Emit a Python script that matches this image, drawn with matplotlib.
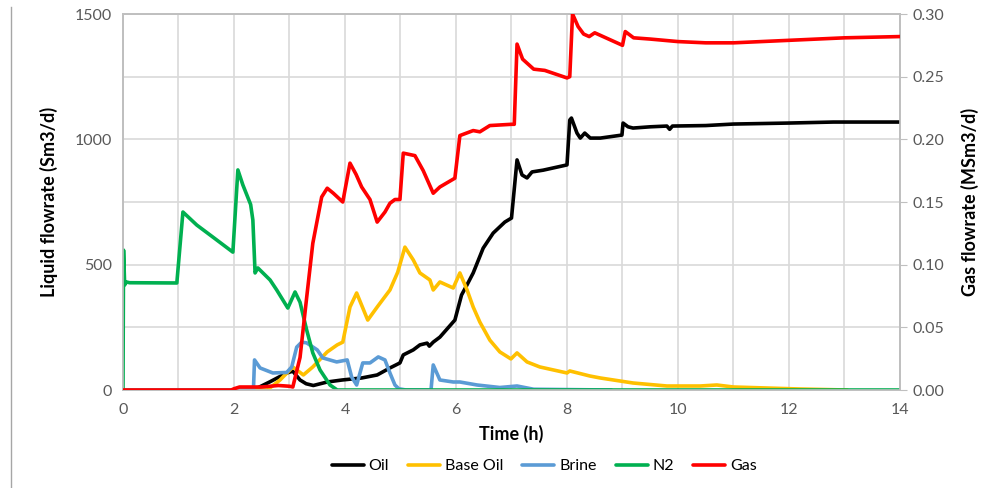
import matplotlib.pyplot as plt
from matplotlib.lines import Line2D

plt.rcParams['font.family'] = ['Lato', 'DejaVu Sans']

# time (h) / liquid rates (Sm3/d)
oil_t = [0, 2.35, 2.65, 2.95, 3.06, 3.19, 3.3, 3.43, 3.68, 3.95, 4.3, 4.58, 4.81, 4.99, 5.05,
         5.23, 5.35, 5.48, 5.52, 5.59, 5.71, 5.98, 6.1, 6.2, 6.31, 6.49, 6.67, 6.88, 7.0,
         7.1, 7.19, 7.28, 7.37, 7.57, 8.0, 8.05, 8.08, 8.18, 8.24, 8.32, 8.42, 8.6, 8.99,
         9.01, 9.1, 9.19, 9.5, 9.8, 9.85, 9.9, 10.5, 11, 12, 12.8, 14]
oil_q = [0, 0, 33, 68, 75, 40, 25, 18, 32, 40, 48, 60, 88, 108, 140,
         160, 180, 187, 175, 191, 211, 279, 379, 420, 467, 566, 626, 670, 686,
         918, 858, 846, 870, 877, 898, 1077, 1085, 1025, 1005, 1025, 1005, 1005, 1017,
         1065, 1050, 1045, 1050, 1053, 1040, 1053, 1055, 1061, 1065, 1069, 1069]

base_t = [0, 2.6, 2.83, 3.06, 3.25, 3.42, 3.68, 3.86, 3.96, 4.09, 4.21, 4.41, 4.58, 4.81,
          4.95, 5.08, 5.23, 5.35, 5.53, 5.59, 5.71, 5.95, 6.07, 6.2, 6.31, 6.43, 6.61,
          6.79, 6.99, 7.1, 7.28, 7.51, 8.0, 8.05, 8.41, 8.6, 9.19, 9.8, 10.4, 10.7, 11.0,
          11.6, 12.2, 13.05]
base_q = [0, 0, 40, 92, 60, 92, 152, 180, 191, 331, 387, 279, 331, 399,
          470, 570, 519, 467, 439, 399, 431, 407, 467, 399, 331, 271, 199,
          152, 124, 148, 112, 92, 68, 76, 56, 48, 28, 16, 16, 20, 12,
          8, 4, 0]

brine_t = [0, 2.35, 2.37, 2.47, 2.7, 2.95, 3.04, 3.13, 3.22, 3.31, 3.5, 3.6, 3.85, 4.04,
           4.12, 4.21, 4.32, 4.45, 4.6, 4.72, 4.81, 4.9, 4.97, 5.1, 5.55, 5.59, 5.71, 5.95,
           6.07, 6.38, 6.79, 7.1, 7.4, 8.8]
brine_q = [0, 0, 120, 88, 68, 70, 92, 171, 191, 188, 160, 128, 112, 120,
           52, 20, 108, 108, 132, 120, 68, 20, 5, 0, 0, 100, 40, 32,
           32, 20, 10, 16, 3, 0]

n2_t = [0, 0.01, 0.03, 0.06, 0.12, 0.97, 1.08, 1.33, 1.62, 1.98, 2.07, 2.16, 2.3, 2.34,
        2.38, 2.43, 2.65, 2.77, 2.97, 3.1, 3.19, 3.31, 3.42, 3.55, 3.73, 3.86, 14]
n2_q = [0, 558, 419, 431, 428, 427, 710, 658, 610, 550, 878, 818, 740, 678,
        467, 487, 439, 399, 327, 391, 350, 239, 148, 80, 20, 0, 0]

# gas rate (MSm3/d), right axis
gas_t = [0, 1.95, 2.0, 2.1, 2.5, 2.8, 3.0, 3.06, 3.19, 3.31, 3.42, 3.58, 3.68, 3.79, 3.96,
         4.09, 4.2, 4.3, 4.45, 4.58, 4.72, 4.81, 4.9, 4.99, 5.05, 5.26, 5.41, 5.59, 5.71,
         5.98, 6.07, 6.31, 6.43, 6.61, 7.0, 7.05, 7.1, 7.2, 7.3, 7.4, 7.6, 8.0, 8.05, 8.1,
         8.2, 8.3, 8.4, 8.5, 9.0, 9.05, 9.2, 9.5, 10, 10.5, 11, 12, 13, 14]
gas_q = [0, 0, 0.001, 0.0024, 0.0024, 0.0036, 0.003, 0.0024, 0.026, 0.074, 0.117, 0.154,
         0.161, 0.157, 0.150, 0.181, 0.172, 0.162, 0.152, 0.134, 0.142, 0.149, 0.152,
         0.152, 0.189, 0.187, 0.175, 0.157, 0.162, 0.169, 0.203, 0.207, 0.206, 0.211,
         0.212, 0.212, 0.276, 0.264, 0.260, 0.256, 0.255, 0.249, 0.250, 0.300, 0.290,
         0.284, 0.282, 0.285, 0.275, 0.286, 0.281, 0.280, 0.278, 0.277, 0.277, 0.279,
         0.281, 0.282]

fig = plt.figure(figsize=(10.04, 4.88), dpi=100)
ax = fig.add_axes([0.1225, 0.2008, 0.7739, 0.7705])
ax2 = ax.twinx()

lw = 2.6
style = dict(lw=lw, zorder=3, solid_joinstyle='round', solid_capstyle='round')
ax.plot(oil_t, oil_q, color='black', label='Oil', **style)
ax.plot(base_t, base_q, color='#FFC000', label='Base Oil', **style)
ax.plot(brine_t, brine_q, color='#5B9BD5', label='Brine', **style)
ax.plot(n2_t, n2_q, color='#00B050', label='N2', **style)
ax2.plot(gas_t, gas_q, color='#FF0000', label='Gas', **style)

ax.set_xlim(0, 14)
ax.set_ylim(0, 1500)
ax2.set_ylim(0, 0.30)
ax.set_xticks(range(0, 15, 2))
ax.set_xticks(range(0, 15), minor=True)
ax.set_yticks([0, 500, 1000, 1500])
ax.set_yticks(range(0, 1501, 250), minor=True)
ax2.set_yticks([0, 0.05, 0.10, 0.15, 0.20, 0.25, 0.30])
ax2.set_yticklabels([f'{v:.2f}' for v in [0, 0.05, 0.10, 0.15, 0.20, 0.25, 0.30]])

ax.grid(True, which='both', color='#D9D9D9', lw=1.2, zorder=0)
ax.set_axisbelow(True)
for a in (ax, ax2):
    for s in a.spines.values():
        s.set_color('#BFBFBF')
        s.set_linewidth(1.2)
ax.tick_params(which='both', length=0, labelsize=11.5, colors='#595959', pad=8)
ax.tick_params(axis='x', pad=9)
ax2.tick_params(axis='y', length=5, color='#BFBFBF', labelsize=11.5, labelcolor='#595959', pad=4)

ax.set_xlabel('Time (h)', fontsize=13, fontweight='bold', labelpad=6)
ax.set_ylabel('Liquid flowrate (Sm3/d)', fontsize=13, fontweight='bold', labelpad=12)
ax2.set_ylabel('Gas flowrate (MSm3/d)', fontsize=13, fontweight='bold', labelpad=12)

h1, l1 = ax.get_legend_handles_labels()
h2, l2 = ax2.get_legend_handles_labels()
fig.legend(h1 + h2, l1 + l2, loc='center', bbox_to_anchor=(0.542, 0.045), ncol=5,
           frameon=False, fontsize=11.5, handlelength=2.0, handletextpad=0.3,
           columnspacing=1.2)

fig.add_artist(Line2D([0.011, 0.011], [0.0, 0.985], color='#A6A6A6', lw=1.0))

fig.savefig('out.png', dpi=100)
